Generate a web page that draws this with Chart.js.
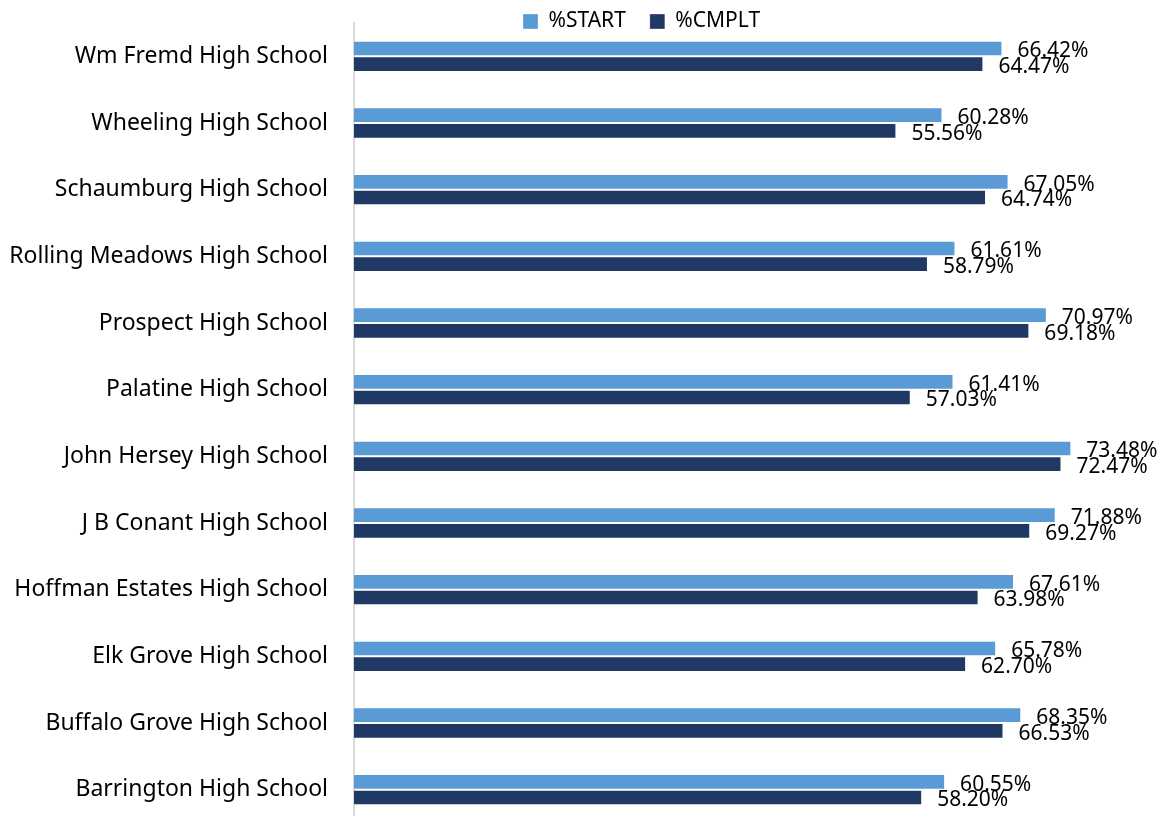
<!DOCTYPE html>
<html>
<head>
<meta charset="utf-8">
<script src="https://cdn.jsdelivr.net/npm/chart.js@4/dist/chart.umd.min.js"></script>
<style>
  html, body { margin: 0; padding: 0; background: #ffffff; overflow: hidden; }
  #wrap { width: 1162px; height: 824px; }
</style>
</head>
<body>
<div id="wrap"><canvas id="c" width="1162" height="824"></canvas></div>
<script>
const categories = [
  "Wm Fremd High School",
  "Wheeling High School",
  "Schaumburg High School",
  "Rolling Meadows High School",
  "Prospect High School",
  "Palatine High School",
  "John Hersey High School",
  "J B Conant High School",
  "Hoffman Estates High School",
  "Elk Grove High School",
  "Buffalo Grove High School",
  "Barrington High School"
];
const startValues = [66.42, 60.28, 67.05, 61.61, 70.97, 61.41, 73.48, 71.88, 67.61, 65.78, 68.35, 60.55];
const cmpltValues = [64.47, 55.56, 64.74, 58.79, 69.18, 57.03, 72.47, 69.27, 63.98, 62.70, 66.53, 58.20];
const seriesNames = ["%START", "%CMPLT"];

const FONT = "'Noto Sans', 'Open Sans', sans-serif";

const labelPlugin = {
  id: 'barValueLabels',
  afterDatasetsDraw(chart) {
    const ctx = chart.ctx;
    ctx.save();
    ctx.font = "21px " + FONT;
    ctx.fillStyle = "#000000";
    ctx.textAlign = "left";
    ctx.textBaseline = "alphabetic";
    chart.data.datasets.forEach((ds, di) => {
      const meta = chart.getDatasetMeta(di);
      meta.data.forEach((el, i) => {
        const v = ds.data[i];
        ctx.fillText(v.toFixed(2) + "%", el.x + 15, el.y + 8.7);
      });
    });
    ctx.restore();
  }
};

const legendFix = {
  id: 'legendFix',
  beforeLayout(chart) {
    const lg = chart.legend;
    if (lg && !lg._patched) {
      const orig = lg.fit.bind(lg);
      lg.fit = function () { orig(); this.height = 23; };
      lg._patched = true;
    }
  },
  afterLayout(chart) {
    const lg = chart.legend;
    if (!lg) return;
    const p = lg.options.labels.padding;
    lg.left = 523 - p;
    lg.right = 1162;
    lg.top = 11 - p;
    lg.bottom = 40;
  }
};

new Chart(document.getElementById('c'), {
  type: 'bar',
  data: {
    labels: categories,
    datasets: [
      {
        label: seriesNames[0],
        data: startValues,
        backgroundColor: '#5B9BD5',
        borderColor: 'rgba(255,255,255,0.3)',
        borderWidth: 1,
        barPercentage: 1,
        categoryPercentage: 0.47
      },
      {
        label: seriesNames[1],
        data: cmpltValues,
        backgroundColor: '#203864',
        borderColor: 'rgba(255,255,255,0.3)',
        borderWidth: 1,
        barPercentage: 1,
        categoryPercentage: 0.47
      }
    ]
  },
  options: {
    indexAxis: 'y',
    responsive: false,
    animation: false,
    devicePixelRatio: 1,
    layout: { padding: { left: 0, right: 27, top: 0, bottom: 1 } },
    plugins: {
      legend: {
        display: true,
        position: 'top',
        align: 'start',
        labels: {
          boxWidth: 15,
          boxHeight: 15,
          padding: 24,
          color: '#000000',
          font: { family: FONT, size: 21 }
        }
      },
      tooltip: { enabled: false }
    },
    scales: {
      x: {
        display: false,
        min: 0,
        max: 80
      },
      y: {
        position: 'left',
        grid: { display: false, drawTicks: false },
        border: { display: true, color: '#d9d9d9', width: 2 },
        ticks: {
          color: '#000000',
          padding: 26,
          font: { family: FONT, size: 23 }
        },
        afterFit(scale) {
          scale.width = 354;
          scale.paddingTop = 0;
          scale.paddingBottom = 0;
        }
      }
    }
  },
  plugins: [labelPlugin, legendFix]
});
</script>
</body>
</html>
